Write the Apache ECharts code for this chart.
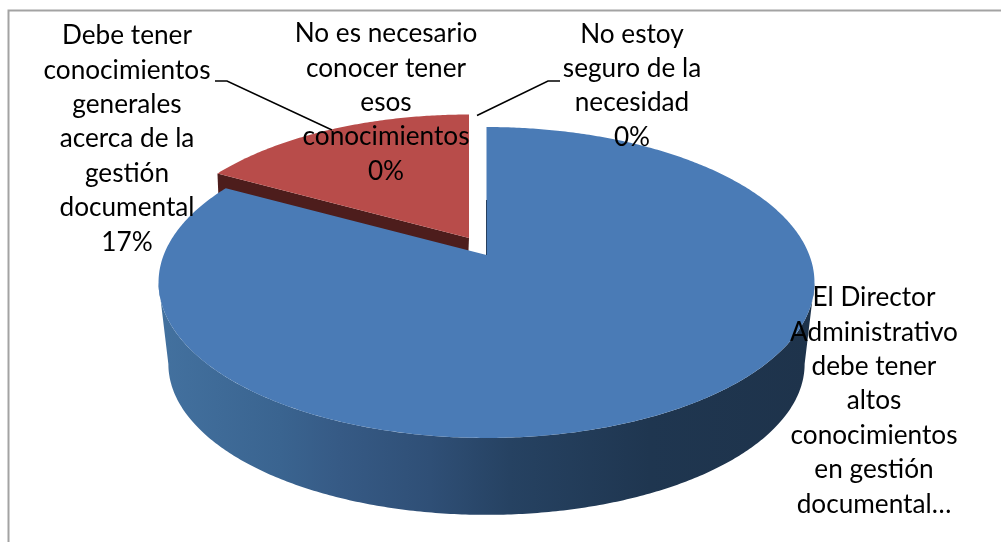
<!DOCTYPE html>
<html>
<head>
<meta charset="utf-8">
<style>html,body{margin:0;padding:0;background:#fff}#c{width:1001px;height:542px}</style>
<script src="https://cdn.jsdelivr.net/npm/echarts@6/dist/echarts.min.js"></script>
</head>
<body>
<div id="c"></div>
<script>
const categories = [
  'El Director Administrativo debe tener altos conocimientos en gestión documental',
  'Debe tener conocimientos generales acerca de la gestión documental',
  'No es necesario conocer tener esos conocimientos',
  'No estoy seguro de la necesidad'
];
const values = [83, 17, 0, 0];
const labelLines = [
  ['El Director', 'Administrativo', 'debe tener', 'altos', 'conocimientos', 'en gestión', 'documental…'],
  ['Debe tener', 'conocimientos', 'generales', 'acerca de la', 'gestión', 'documental', '17%'],
  ['No es necesario', 'conocer tener', 'esos', 'conocimientos', '0%'],
  ['No estoy', 'seguro de la', 'necesidad', '0%']
];

const FONT = '26.2px Lato, Carlito, "Open Sans", sans-serif';
const LINE_H = 34.4;
const labelLayout = [
  { x: 874, y: 280.5 },
  { x: 127, y: 18.5 },
  { x: 386, y: 16.5 },
  { x: 632, y: 17 }
];
const leaders = [
  null,
  [[215, 81], [227, 81], [332, 130]],
  null,
  [[477, 115.5], [548, 81], [560, 81]]
];
const BORDER = '#a3a3a3';
const BLUE = '#4a7bb6', RED = '#b84c4a', RED_DARK = '#4d1d1c';
const sideStops = [[160, '#43719f'], [280, '#3a6490'], [340, '#365a85'], [430, '#2f4f76'],
                   [510, '#264262'], [650, '#1f3650'], [810, '#1e334b']];

// perspective projection of the pie disc onto the page
const K = 0.1768, RX = 322.8, RY = 150.6;
function disc(theta, apex, scale) {
  const u = Math.sin(theta), v = -Math.cos(theta), w = 1 - K * v;
  return [apex[0] + scale * RX * u / w, apex[1] + scale * RY * v / w];
}
function arc(a0, a1, apex, scale) {
  const n = Math.max(2, Math.ceil(Math.abs(a1 - a0) / 0.01)), pts = [];
  for (let i = 0; i <= n; i++) pts.push(disc(a0 + (a1 - a0) * i / n, apex, scale));
  return pts;
}

const total = values.reduce((a, b) => a + b, 0);
const starts = [];
values.reduce((acc, v, i) => { starts[i] = acc; return acc + v; }, 0);

const TOP_APEX = [486.5, 255], BOTTOM_APEX = [486.5, 337.4], BOTTOM_SCALE = 0.97;
const EXPLODED_APEX = [469, 238], EXPLODED_SCALE = 0.965, EXPLODED_DEPTH = 24;

function renderItem(params, api) {
  const i = params.dataIndex, v = api.value(0);
  const a0 = 2 * Math.PI * starts[i] / total, a1 = a0 + 2 * Math.PI * v / total;
  const children = [];
  if (v > 0 && i === 0) {
    // visible wall of the drum: between the two silhouette tangents
    const tanR = Math.acos(-K), tanL = 2 * Math.PI - tanR;
    const xMin = sideStops[0][0], xMax = sideStops[sideStops.length - 1][0];
    children.push({ type: 'polygon', z2: 3,
      shape: { points: arc(tanR, tanL, TOP_APEX, 1).concat(arc(tanL, tanR, BOTTOM_APEX, BOTTOM_SCALE)) },
      style: { fill: new echarts.graphic.LinearGradient(xMin, 0, xMax, 0,
        sideStops.map(s => ({ offset: (s[0] - xMin) / (xMax - xMin), color: s[1] })), true) } });
    children.push({ type: 'polygon', z2: 4, shape: { points: [TOP_APEX].concat(arc(a0, a1, TOP_APEX, 1)) },
      style: { fill: BLUE } });
    children.push({ type: 'line', z2: 5, shape: { x1: TOP_APEX[0], y1: 200, x2: TOP_APEX[0], y2: TOP_APEX[1] },
      style: { stroke: '#27405f', lineWidth: 1 } });
  }
  if (v > 0 && i === 1) {
    const corner = disc(a0, EXPLODED_APEX, EXPLODED_SCALE);
    children.push({ type: 'polygon', z2: 1, shape: { points: [
        EXPLODED_APEX, corner, [corner[0] + 1, corner[1] + EXPLODED_DEPTH], [EXPLODED_APEX[0] - 1, EXPLODED_APEX[1] + EXPLODED_DEPTH]] },
      style: { fill: RED_DARK } });
    children.push({ type: 'polygon', z2: 2, shape: { points: [EXPLODED_APEX].concat(arc(a0, a1, EXPLODED_APEX, EXPLODED_SCALE)) },
      style: { fill: RED } });
  }
  if (leaders[i]) {
    children.push({ type: 'polyline', z2: 9, shape: { points: leaders[i] },
      style: { stroke: '#000', lineWidth: 1.5, fill: null } });
  }
  children.push({ type: 'text', z2: 10, style: {
    text: labelLines[i].join('\n'), x: labelLayout[i].x, y: labelLayout[i].y,
    align: 'center', verticalAlign: 'top', font: FONT, lineHeight: LINE_H, fill: '#000' } });
  return { type: 'group', children };
}

const chart = echarts.init(document.getElementById('c'), null, { renderer: 'canvas', width: 1001, height: 542 });
chart.setOption({
  animation: false,
  backgroundColor: '#fff',
  graphic: [
    { type: 'polyline', z: 0, shape: { points: [[1001, 10.5], [8.5, 10.5], [8.5, 542]] },
      style: { stroke: BORDER, lineWidth: 2, fill: null }, silent: true }
  ],
  series: [{
    type: 'custom',
    coordinateSystem: 'none',
    clip: false,
    renderItem,
    data: values.map((v, i) => ({ name: categories[i], value: [v] }))
  }]
});
</script>
</body>
</html>
